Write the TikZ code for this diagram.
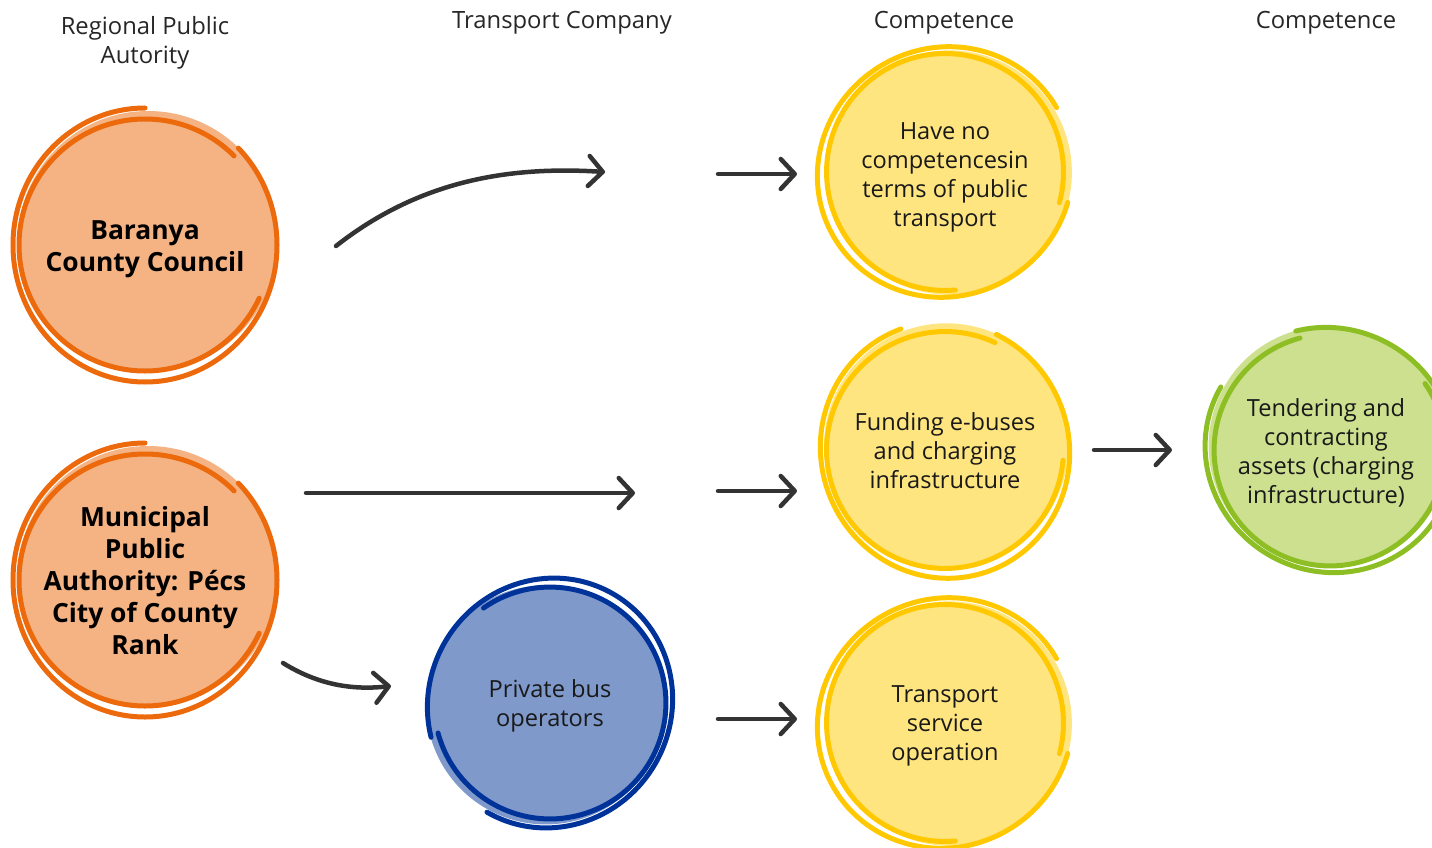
\documentclass[tikz,border=0pt]{standalone}
\usepackage{fontspec}
\setmainfont{Open Sans}
\usetikzlibrary{arrows.meta,calc}
\definecolor{orfill}{HTML}{F5B383}
\definecolor{orline}{HTML}{EC6A0C}
\definecolor{yefill}{HTML}{FFE580}
\definecolor{yeline}{HTML}{FFC800}
\definecolor{blfill}{HTML}{7F99CB}
\definecolor{blline}{HTML}{003399}
\definecolor{grfill}{HTML}{CDE08F}
\definecolor{grline}{HTML}{8DBE23}
\definecolor{arr}{HTML}{333333}
\tikzset{
  body/.style={align=center, font=\fontsize{23.6}{29}\selectfont, text=black!90, inner sep=0pt},
  bodybold/.style={align=center, font=\fontsize{26.4}{32}\selectfont\bfseries, text=black, inner sep=0pt},
  title/.style={align=center, font=\fontsize{23.8}{29}\selectfont, text=black!85, inner sep=0pt},
  link/.style={arr, line width=4.5pt, line cap=round, -{Straight Barb[length=14pt,width=30pt,round]}},
  ring/.style={line width=5pt, line cap=round},
}
% #1 centre, #2 fill colour, #3 line colour, #4 rotation, #5 scale
\newcommand\sketchy[5]{%
  \begin{scope}[shift={(#1)}, rotate=#4, scale=#5]
    \fill[#2] (3,4) circle (130);
    \draw[#3, ring] (45:126) arc[start angle=45, end angle=335, radius=126];
    \draw[#3, ring] (0,137) arc[start angle=90, end angle=405, x radius=132, y radius=137];
  \end{scope}}
\begin{document}
\begin{tikzpicture}[x=1pt, y=1pt]
  \useasboundingbox (0,0) rectangle (1432,-848);
  % column titles
  \node[title] (t1) at (145,-43) {Regional Public\\Autority};
  \node[title] (t2) at (562,-23) {Transport Company};
  \node[title] (t3) at (944,-23) {Competence};
  \node[title] (t4) at (1326,-23) {Competence};
  % circle centres
  \coordinate (cb) at (145,-245);
  \coordinate (cm) at (145,-580);
  \coordinate (cp) at (550,-703);
  \coordinate (ch) at (945,-172);
  \coordinate (cf) at (945,-450);
  \coordinate (cs) at (945,-723);
  \coordinate (ct) at (1330,-450);
  % circles
  \sketchy{cb}{orfill}{orline}{0}{1}
  \sketchy{cm}{orfill}{orline}{0}{1.0}
  \sketchy{cp}{blfill}{blline}{150}{0.92}
  \sketchy{ch}{yefill}{yeline}{-60}{0.94}
  \sketchy{cf}{yefill}{yeline}{20}{0.94}
  \sketchy{cs}{yefill}{yeline}{-60}{0.94}
  \sketchy{ct}{grfill}{grline}{60}{0.92}
  % texts
  \node[bodybold] (nb) at ($(cb)+(0,-4)$) {Baranya\\County Council};
  \node[bodybold] (nm) at ($(cm)+(0,-1)$) {Municipal\\Public\\Authority: Pécs\\City of County\\Rank};
  \node[body] (np) at ($(cp)+(0,-3)$) {Private bus\\operators};
  \node[body] (nh) at ($(ch)+(0,-5)$) {Have no\\competencesin\\terms of public\\transport};
  \node[body] (nf) at ($(cf)+(0,-1)$) {Funding e-buses\\and charging\\infrastructure};
  \node[body] (ns) at ($(cs)+(0,-3)$) {Transport\\service\\operation};
  \node[body] (nt) at ($(ct)+(-4,-3)$) {Tendering and\\contracting\\assets (charging\\infrastructure)};
  % connector end points
  \coordinate (a1s) at (336,-246);
  \coordinate (a1e) at (605,-172);
  \coordinate (a2s) at (718,-174);
  \coordinate (a2e) at (797,-174);
  \coordinate (a3s) at (306,-493);
  \coordinate (a3e) at (635,-493);
  \coordinate (a4s) at (718,-491);
  \coordinate (a4e) at (797,-491);
  \coordinate (a5s) at (283,-663);
  \coordinate (a5e) at (391,-686);
  \coordinate (a6s) at (718,-719);
  \coordinate (a6e) at (797,-719);
  \coordinate (a7s) at (1094,-450);
  \coordinate (a7e) at (1172,-450);
  % connectors
  \draw[link] (a1s) .. controls (420,-180) and (510,-166) .. (a1e);
  \draw[link] (a2s) -- (a2e);
  \draw[link] (a3s) -- (a3e);
  \draw[link] (a4s) -- (a4e);
  \draw[link] (a5s) .. controls (320,-686) and (355,-690) .. (a5e);
  \draw[link] (a6s) -- (a6e);
  \draw[link] (a7s) -- (a7e);
\end{tikzpicture}
\end{document}
